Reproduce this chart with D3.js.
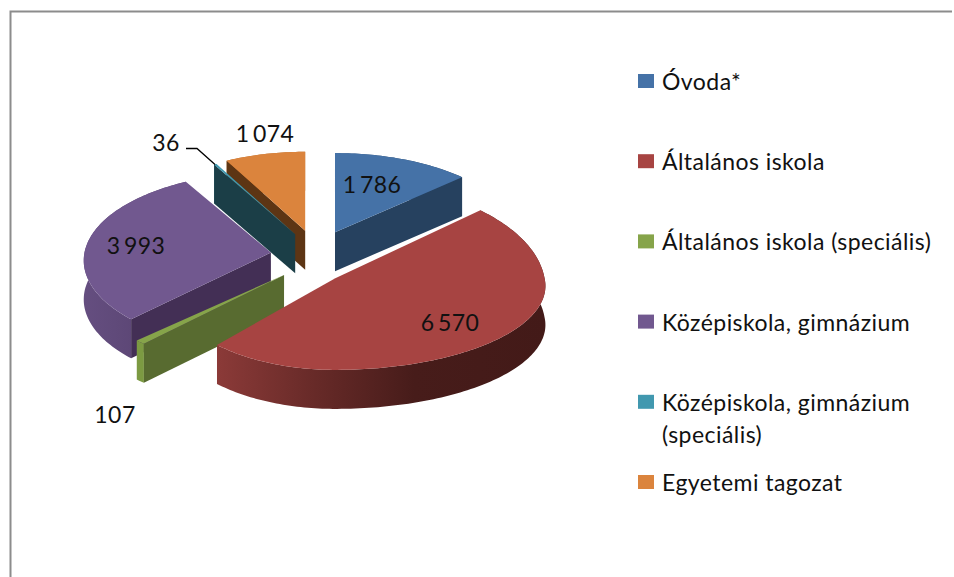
<!DOCTYPE html>
<html><head><meta charset="utf-8">
<script src="https://cdn.jsdelivr.net/npm/d3@7"></script>
<style>html,body{margin:0;padding:0;background:#fff}svg{display:block}text{font-family:Lato,"Open Sans",sans-serif;fill:#111;font-size:23px;letter-spacing:.45px}</style>
</head><body><div id="c"></div>
<script>
const categories=["Óvoda*","Általános iskola","Általános iskola (speciális)","Középiskola, gimnázium","Középiskola, gimnázium (speciális)","Egyetemi tagozat"];
const values=[1786,6570,107,3993,36,1074];
const labels=["1 786","6 570","107","3 993","36","1 074"];
const topColors=["#4572a7","#a74442","#86a44a","#71588f","#4198af","#db843d"];
const wallColors=["#26415f","#4a1c1a","#586b30","#432f55","#1b3e47","#5d3514"];
const rimStart=["#3a5f8c","#8b3a38","#7c9a42","#654e80","#35808f","#b86f30"];
const rimEnd=["#26415f","#431a18","#7c9a42","#5a4573","#35808f","#b86f30"];
const drawOrder=[5,0,3,4,2,1];
const W=954,H=577,cx=316.5,cy=256,rx=187,ry=88,ex=46,ey=26,k=0.09,depth=39,boom=0.27;
// geometry corrections for the reference's projection, per slice
const nudge=[[0,0],[-14,4],[-1,0],[0,0],[1,1],[0,0]];
const stretch=[[1,1,1,1],[1.10,.87,1.19,.93],[1,1.03,1,.96],[1,1,1,1],[1,.97,1,.97],[1,.97,1,.97]];

const svg=d3.select("#c").append("svg").attr("width",W).attr("height",H);
svg.append("path").attr("d",d3.line()([[10.5,H],[10.5,11.5],[W-2,11.5]])).attr("fill","none").attr("stroke","#8c8c8c").attr("stroke-width",2);

const arcs=d3.pie().sort(null)(values);
const line=d3.line();
const defs=svg.append("defs");
function project(d,a,r=1){
  const b=(d.startAngle+d.endAngle)/2, i=d.index, s=stretch[i];
  const X=r*Math.sin(a), C=r*Math.cos(a);
  const Y=boom*Math.cos(b)+C, g=1/(1+k*Y);
  return [cx+ex*Math.sin(b)+nudge[i][0]+rx*X*g*(X>=0?s[0]:s[1]),
          cy-ey*Math.cos(b)+nudge[i][1]-ry*C*g*(C>=0?s[2]:s[3])];
}
const apex=d=>project(d,0,0);
const down=p=>[p[0],p[1]+depth];
function rim(d){
  const n=Math.max(2,Math.ceil((d.endAngle-d.startAngle)/0.02));
  return d3.range(n+1).map(i=>project(d,d.startAngle+(d.endAngle-d.startAngle)*i/n));
}
const wall=(d,a)=>{const p=apex(d),q=project(d,a);return [p,q,down(q),down(p)];};
// a radial side shows when its outward normal points at the viewer (south)
function visibleWalls(d){
  const out=[];
  if(Math.sin(d.startAngle)<-1e-6) out.push(d.startAngle);
  if(Math.sin(d.endAngle)>1e-6) out.push(d.endAngle);
  return out;
}
drawOrder.forEach(i=>{
  const d=arcs[i],pts=rim(d);
  const gid="g"+i;
  const xr=d3.extent(pts,p=>p[0]);
  const lg=defs.append("linearGradient").attr("id",gid).attr("gradientUnits","userSpaceOnUse")
    .attr("x1",xr[0]).attr("x2",xr[1]).attr("y1",0).attr("y2",0);
  const mix=d3.interpolateRgb(rimStart[i],rimEnd[i]);
  [[0,0],[.3,.5],[.6,.95],[1,1]].forEach(o=>lg.append("stop").attr("offset",o[0]).attr("stop-color",mix(o[1])));
  const g=svg.append("g").attr("class","slice");
  g.append("path").attr("d",line(pts.concat(pts.map(down).reverse()))+"Z").attr("fill",`url(#${gid})`);
  visibleWalls(d).forEach(a=>g.append("path").attr("d",line(wall(d,a))+"Z").attr("fill",wallColors[i]));
  g.append("path").attr("d",line([apex(d),...pts])+"Z").attr("fill",topColors[i]);
});

// data labels
const labelPos=[[372,185],[450,323],[115,415],[136,246],[166,143],[265,134]];
svg.selectAll("text.lab").data(labels).join("text").attr("class","lab")
  .attr("x",(d,i)=>labelPos[i][0]).attr("y",(d,i)=>labelPos[i][1]).attr("dy","0.36em")
  .attr("text-anchor","middle").attr("word-spacing",-3).text(d=>d);
svg.append("path").attr("d",line([[186,148.5],[197,148.5],[215,164.5]])).attr("fill","none").attr("stroke","#000").attr("stroke-width",1.3);

// legend
const legendY=d3.scaleLinear().domain([0,5]).range([81,482]);
const lg=svg.selectAll("g.leg").data(categories).join("g").attr("class","leg");
lg.append("rect").attr("x",638).attr("y",(d,i)=>legendY(i)-7).attr("width",16).attr("height",14).attr("fill",(d,i)=>topColors[i]);
const wrap={4:["Középiskola, gimnázium","(speciális)"]};
lg.each(function(d,i){
  const t=d3.select(this).append("text").attr("x",662).attr("y",legendY(i)+9);
  (wrap[i]||[d]).forEach((s,j)=>t.append("tspan").attr("x",662).attr("dy",j?32:0).text(s));
});
</script></body></html>
